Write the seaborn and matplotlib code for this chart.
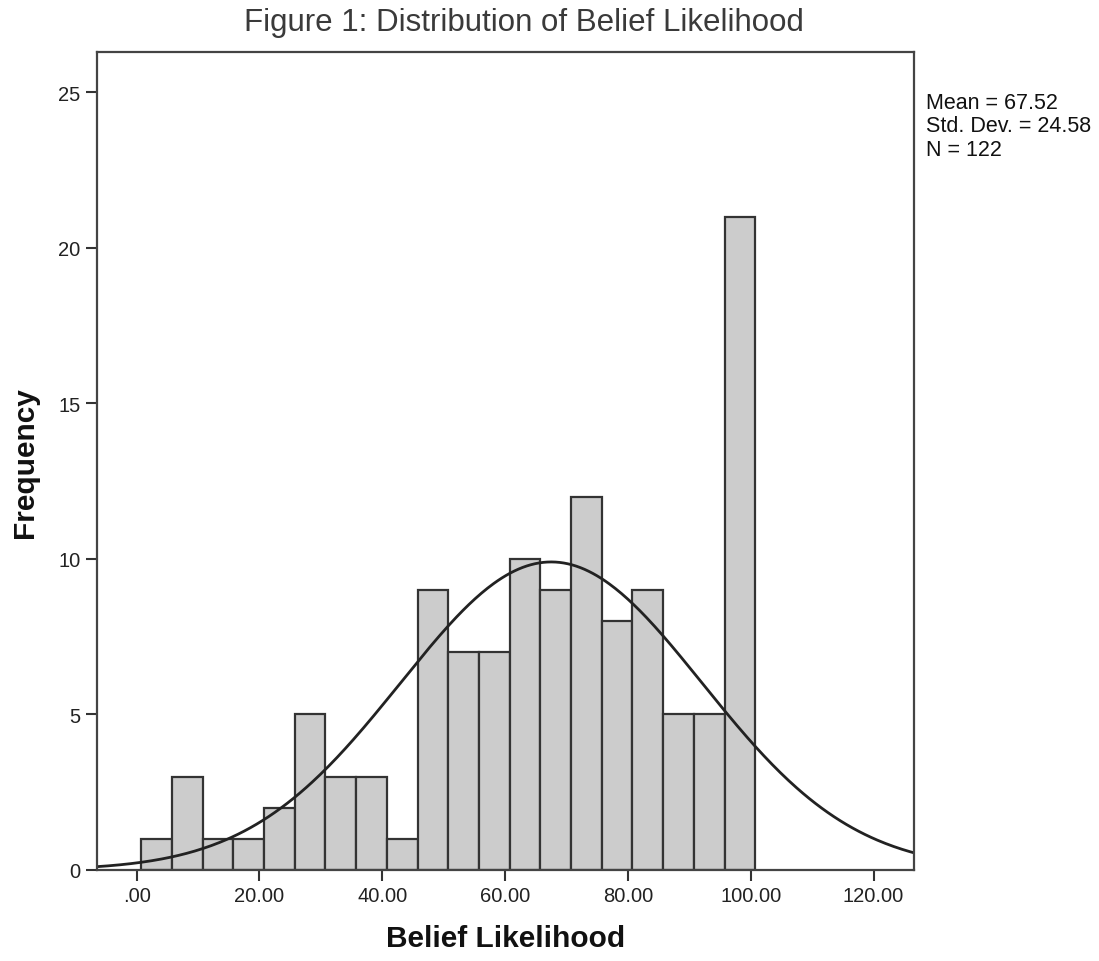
import matplotlib
matplotlib.use('Agg')
import matplotlib.pyplot as plt
import seaborn as sns
import numpy as np
import pandas as pd

# bin counts (20 bins of width 5)
bin_start = 0.75
bin_width = 5.0
counts = [1, 3, 1, 1, 2, 5, 3, 3, 1, 9, 7, 7, 10, 9, 12, 8, 9, 5, 5, 21]

mean_val = 67.52
sd_val = 24.58
n_val = 122

x_ticks = [0, 20, 40, 60, 80, 100, 120]
x_tick_labels = ['.00', '20.00', '40.00', '60.00', '80.00', '100.00', '120.00']
y_ticks = [0, 5, 10, 15, 20, 25]

sns.set_style('white')
plt.rcParams['font.family'] = ['Liberation Sans', 'DejaVu Sans']

edges = bin_start + bin_width * np.arange(len(counts) + 1)
centers = (edges[:-1] + edges[1:]) / 2
df = pd.DataFrame({'value': centers, 'count': counts})

fig = plt.figure(figsize=(10.99, 9.62), dpi=100)
ax = fig.add_axes([0.088, 0.0946, 0.7437, 0.85])

sns.histplot(data=df, x='value', weights='count', bins=list(edges), ax=ax,
             color='#cccccc', edgecolor='#333333', linewidth=1.6, alpha=1)

# fitted normal curve scaled to counts
xs = np.linspace(-7, 127, 400)
ys = n_val * bin_width / (sd_val * np.sqrt(2 * np.pi)) * np.exp(-0.5 * ((xs - mean_val) / sd_val) ** 2)
sns.lineplot(x=xs, y=ys, ax=ax, color='#222222', linewidth=2)

ax.set_xlim(-6.5, 126.6)
ax.set_ylim(0, 26.28)
ax.set_xticks(x_ticks)
ax.set_xticklabels(x_tick_labels)
ax.set_yticks(y_ticks)
ax.tick_params(axis='both', labelsize=14.5, colors='#333333', length=8, width=1.5,
               direction='out', bottom=True, left=True, top=False, right=False)
ax.tick_params(axis='both', labelcolor='#222222')
for s in ax.spines.values():
    s.set_color('#444444')
    s.set_linewidth(1.6)

ax.set_xlabel('Belief Likelihood', fontsize=21.5, fontweight='bold', labelpad=14, color='#111111')
ax.set_ylabel('Frequency', fontsize=21.5, fontweight='bold', labelpad=14, color='#111111')

fig.text(0.477, 0.976, 'Figure 1: Distribution of Belief Likelihood',
         ha='center', va='center', fontsize=22.5, color='#3a3a3a')

fig.text(0.843, 0.868,
         'Mean = %.2f\nStd. Dev. = %.2f\nN = %d' % (mean_val, sd_val, n_val),
         ha='left', va='center', fontsize=15.5, color='#111111', linespacing=1.15)

fig.savefig('out.png', dpi=100)
